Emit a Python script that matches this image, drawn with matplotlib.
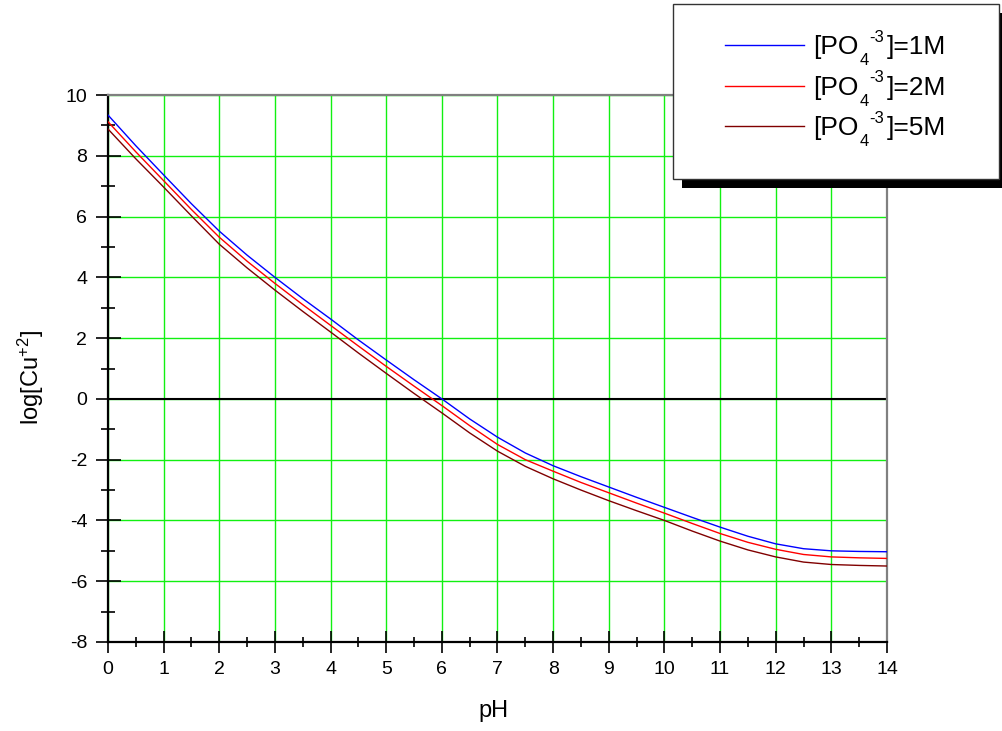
import matplotlib
matplotlib.use('Agg')
import matplotlib.pyplot as plt
from matplotlib.lines import Line2D
from matplotlib.patches import Rectangle

plt.rcParams['font.family'] = ['Liberation Sans', 'DejaVu Sans']
plt.rcParams['mathtext.fontset'] = 'custom'
plt.rcParams['mathtext.rm'] = 'Liberation Sans'
plt.rcParams['mathtext.it'] = 'Liberation Sans:italic'
plt.rcParams['axes.unicode_minus'] = False

# pH values
ph = [0, 0.5, 1, 1.5, 2, 2.5, 3, 3.5, 4, 4.5, 5, 5.5, 6, 6.5, 7,
      7.5, 8, 8.5, 9, 9.5, 10, 10.5, 11, 11.5, 12, 12.5, 13, 13.5, 14]

# log[Cu+2] for each phosphate concentration
cu_1m = [9.34, 8.33, 7.37, 6.42, 5.52, 4.73, 4.00, 3.30, 2.63, 1.94, 1.28,
         0.63, 0.00, -0.66, -1.26, -1.78, -2.20, -2.56, -2.90, -3.24, -3.57,
         -3.90, -4.22, -4.52, -4.77, -4.93, -5.00, -5.02, -5.03]
cu_2m = [9.12, 8.13, 7.18, 6.23, 5.32, 4.53, 3.80, 3.10, 2.42, 1.74, 1.07,
         0.42, -0.22, -0.88, -1.50, -2.00, -2.38, -2.75, -3.09, -3.43, -3.76,
         -4.10, -4.43, -4.72, -4.95, -5.12, -5.20, -5.23, -5.25]
cu_5m = [8.88, 7.90, 6.97, 6.02, 5.09, 4.31, 3.58, 2.88, 2.20, 1.51, 0.84,
         0.18, -0.46, -1.12, -1.72, -2.22, -2.63, -3.00, -3.35, -3.68, -4.00,
         -4.35, -4.68, -4.97, -5.20, -5.37, -5.45, -5.48, -5.50]

conc = ['1M', '2M', '5M']
colors = ['#0000ff', '#ff0000', '#800000']

W, H = 1003, 731
fig = plt.figure(figsize=(W / 100, H / 100), dpi=100)
ax = fig.add_axes([108 / W, 1 - 642 / H, 779 / W, 547 / H])

ax.set_xlim(0, 14)
ax.set_ylim(-8, 10)
ax.set_xticks(range(0, 15))
ax.set_xticks([x + 0.5 for x in range(14)], minor=True)
ax.set_yticks(range(-8, 11, 2))
ax.set_yticks(range(-7, 10, 2), minor=True)
ax.grid(True, which='major', color='#11f011', linewidth=1.0)
ax.set_axisbelow(True)
ax.axhline(0, color='black', linewidth=1.5, zorder=2)

for y, c in zip([cu_1m, cu_2m, cu_5m], colors):
    ax.plot(ph, y, color=c, linewidth=1.0, zorder=3)

for side in ['left', 'bottom']:
    ax.spines[side].set_color('black')
    ax.spines[side].set_linewidth(1.6)
for side in ['top', 'right']:
    ax.spines[side].set_color('#808080')
    ax.spines[side].set_linewidth(1.6)

ax.tick_params(axis='y', which='major', direction='inout', length=18, width=1.2, pad=6, labelsize=14)
ax.tick_params(axis='y', which='minor', direction='inout', length=10, width=1.2)
ax.tick_params(axis='x', which='major', direction='inout', length=16, width=1.2, pad=6, labelsize=14)
ax.tick_params(axis='x', which='minor', direction='inout', length=7.5, width=1.2)

fig.text(494 / W, 1 - 711 / H, 'pH', ha='center', va='center', fontsize=17)
fig.text(31 / W, 1 - 378 / H, r'log[Cu$^{+2}$]', ha='center', va='center',
         rotation=90, fontsize=17)

# legend box with hard shadow, drawn in figure pixels
fig.patches.append(Rectangle((682 / W, 1 - 188 / H), 330 / W, 175 / H,
                             transform=fig.transFigure, facecolor='black',
                             edgecolor='none', zorder=10))
fig.patches.append(Rectangle((673 / W, 1 - 179 / H), 326 / W, 175 / H,
                             transform=fig.transFigure, facecolor='white',
                             edgecolor='#333333', linewidth=1.0, zorder=11))

renderer = fig.canvas.get_renderer()


def put(x, base, s, size):
    # place a piece of text at pixel x / baseline, return its right edge in pixels
    t = fig.text(x / W, 1 - base / H, s, ha='left', va='baseline',
                 fontsize=size, zorder=12)
    bb = t.get_window_extent(renderer)
    return bb.x1


for i, (cc, c) in enumerate(zip(conc, colors)):
    row = 45 + 40.5 * i
    yy = 1 - row / H
    fig.lines.append(Line2D([725 / W, 804 / W], [yy, yy], transform=fig.transFigure,
                            color=c, linewidth=1.0, zorder=12))
    base = row + 9
    x = put(813, base, '[PO', 19)
    x4 = put(x + 1, base + 11, '4', 12)
    put(x4 + 1, base - 12, '-3', 12)
    put(x4 + 18, base, ']=' + cc, 19)

fig.savefig('out.png', dpi=100)
